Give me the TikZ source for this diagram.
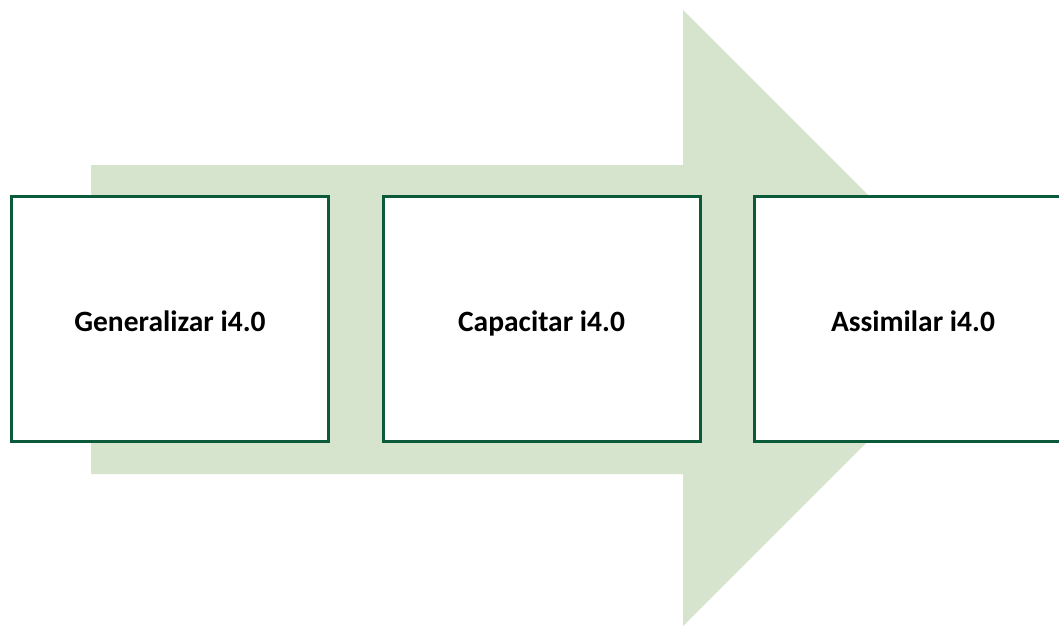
\documentclass[tikz,border=0pt]{standalone}
\usepackage{fontspec}
\setmainfont{Carlito}
\usetikzlibrary{positioning}

\definecolor{stagegreen}{HTML}{0B5B3B}
\definecolor{arrowfill}{HTML}{D6E3CD}

\begin{document}
\begin{tikzpicture}[
    x=1pt, y=-1pt,
    node distance=0pt and 51.5pt,
    stage/.style={draw=stagegreen, line width=3pt, fill=white, minimum width=317pt, minimum height=245pt, font=\fontsize{29.5}{34}\selectfont\bfseries, inner sep=0pt, text height=25pt, text depth=0pt}
]
\useasboundingbox (0,0) rectangle (1059,626);
\clip (0,0) rectangle (1059,626);

% big background arrow
\fill[arrowfill] (91,165) -- (683,165) -- (683,10) -- (991,318) -- (683,626) -- (683,474) -- (91,474) -- cycle;

\node[stage] (gen) at (170,319) {Generalizar i4.0};
\node[stage, right=of gen] (cap) {Capacitar i4.0};
\node[stage, right=of cap] (ass) {Assimilar i4.0};
\end{tikzpicture}
\end{document}
